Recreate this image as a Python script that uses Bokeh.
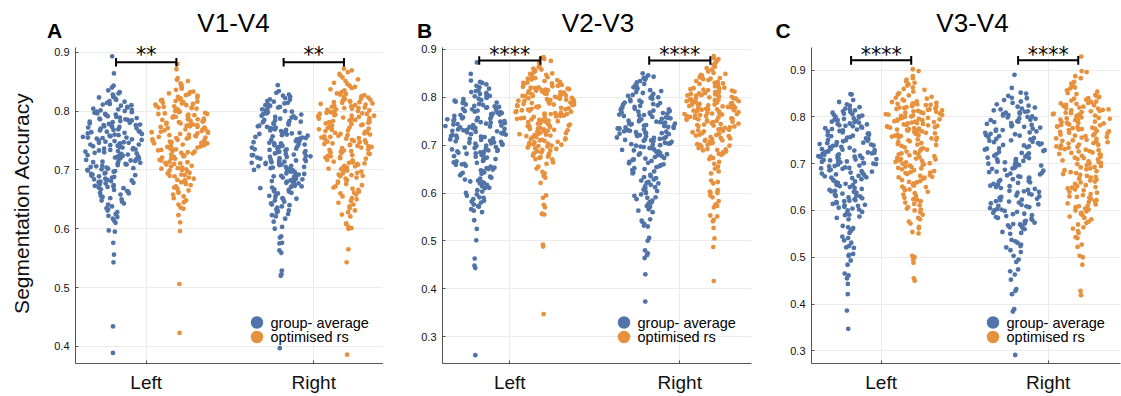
import numpy as np
from bokeh.plotting import figure
from bokeh.layouts import row, column
from bokeh.models import Range1d, FixedTicker, Label
from bokeh.embed import file_html
from bokeh.resources import INLINE

# Segmentation accuracy per participant, per hemisphere and method.

# ---------------- V1-V4 ----------------
v1v4_left_group = [
    .893, .864, .843, .840, .835, .832, .830,
    .828, .826, .824, .823, .821,
    .819, .817, .816, .814, .812, .811, .810,
    .809, .807, .806, .804, .803, .802, .801, .800,
    .799, .798, .796, .795, .794, .793, .791, .790, .797,
    .789, .788, .787, .786, .785, .784, .783, .782, .781, .780, .786,
    .779, .778, .777, .776, .775, .774, .773, .772, .771, .770, .776, .773,
    .769, .768, .767, .766, .765, .764, .763, .762, .761, .760, .765,
    .759, .758, .757, .756, .755, .754, .753, .752, .751, .750, .755,
    .749, .748, .747, .746, .745, .744, .743, .742, .741, .740, .746, .743,
    .739, .738, .737, .736, .735, .734, .733, .732, .731, .730, .735,
    .729, .728, .727, .726, .725, .724, .723, .722, .721, .720, .725,
    .719, .718, .717, .716, .715, .714, .713, .712, .711, .710, .715,
    .709, .708, .707, .706, .705, .704, .703, .702, .701, .700,
    .699, .698, .697, .695, .694, .693, .692, .691, .690,
    .689, .688, .687, .685, .684, .683, .682, .681, .680,
    .679, .678, .677, .675, .674, .673, .672, .671, .670,
    .669, .667, .666, .664, .663, .661, .660,
    .658, .656, .654, .652, .650,
    .648, .646, .643, .641,
    .638, .635, .633, .631,
    .628, .625, .622, .620,
    .617, .613, .610,
    .597, .595, .576, .556, .543, .434, .389]

v1v4_left_opt = [
    .880, .871, .856, .853, .851,
    .847, .845, .842, .840,
    .838, .836, .833, .832, .830,
    .829, .827, .826, .824, .823, .822, .821, .820,
    .819, .818, .817, .816, .815, .814, .813, .812, .811, .810,
    .809, .808, .807, .806, .805, .804, .803, .802, .801, .800, .806,
    .799, .798, .797, .796, .795, .794, .793, .792, .791, .790, .795,
    .789, .788, .787, .786, .785, .784, .783, .782, .781, .780, .786, .783,
    .779, .778, .777, .776, .775, .774, .773, .772, .771, .770, .776, .773,
    .769, .768, .767, .766, .765, .764, .763, .762, .761, .760, .765,
    .759, .758, .757, .756, .755, .754, .753, .752, .751, .750, .755,
    .749, .748, .747, .746, .745, .744, .743, .742, .741, .740, .745,
    .739, .738, .737, .736, .735, .734, .733, .732, .731, .730,
    .729, .728, .726, .725, .724, .723, .722, .721, .720,
    .719, .717, .716, .714, .713, .712, .711, .710,
    .709, .707, .706, .704, .703, .702, .701, .700,
    .699, .697, .695, .694, .692, .691, .690,
    .689, .687, .685, .683, .682, .680,
    .679, .676, .674, .672, .670,
    .668, .665, .663, .661,
    .658, .655, .652,
    .648, .645, .641,
    .636, .634, .623, .611, .596, .506, .423]

v1v4_right_group = [
    .844, .834, .831,
    .828, .826, .824, .822, .820,
    .819, .817, .816, .814, .813, .811, .810,
    .809, .807, .806, .804, .803, .801, .800,
    .799, .798, .796, .795, .794, .792, .791, .790,
    .789, .788, .787, .785, .784, .783, .782, .781, .780,
    .779, .778, .777, .775, .774, .773, .772, .771, .770,
    .769, .768, .767, .766, .765, .764, .763, .762, .761, .760,
    .759, .758, .757, .756, .755, .754, .753, .752, .751, .750,
    .749, .748, .747, .746, .745, .744, .743, .742, .741, .740, .745,
    .739, .738, .737, .736, .735, .734, .733, .732, .731, .730, .735,
    .729, .728, .727, .726, .725, .724, .723, .722, .721, .720, .725, .722,
    .719, .718, .717, .716, .715, .714, .713, .712, .711, .710, .715, .712,
    .709, .708, .707, .706, .705, .704, .703, .702, .701, .700, .705,
    .699, .698, .697, .696, .695, .694, .693, .692, .691, .690,
    .689, .688, .687, .685, .684, .683, .682, .681, .680,
    .679, .678, .677, .675, .674, .673, .672, .671, .670,
    .669, .667, .666, .664, .663, .661, .660,
    .658, .656, .654, .652, .651, .650,
    .648, .646, .643, .641, .640,
    .638, .636, .633, .631, .630,
    .628, .625, .623, .621,
    .617, .612, .603, .600,
    .587, .585, .576, .575, .563, .559, .529, .523, .520, .397]

v1v4_right_opt = [
    .872, .869, .866, .863, .861,
    .857, .854, .851,
    .848, .846, .843, .841,
    .839, .837, .835, .832, .830,
    .829, .828, .827, .825, .824, .823, .822, .821, .820,
    .819, .818, .817, .816, .815, .814, .813, .812, .811, .810, .815,
    .809, .808, .807, .806, .805, .804, .803, .802, .801, .800, .805,
    .799, .798, .797, .796, .795, .794, .793, .792, .791, .790, .795, .792,
    .789, .788, .787, .786, .785, .784, .783, .782, .781, .780, .785,
    .779, .778, .777, .776, .775, .774, .773, .772, .771, .770,
    .769, .768, .767, .766, .765, .764, .763, .762, .761, .760,
    .759, .758, .757, .756, .755, .754, .753, .752, .751, .750,
    .749, .748, .747, .746, .745, .744, .743, .742, .741, .740,
    .739, .738, .737, .735, .734, .733, .732, .731, .730,
    .729, .728, .727, .725, .724, .723, .722, .721, .720,
    .719, .717, .716, .714, .713, .712, .711, .710,
    .709, .707, .706, .704, .703, .702, .701, .700,
    .699, .697, .695, .694, .692, .691, .690,
    .689, .687, .685, .683, .682, .680,
    .678, .676, .674, .672, .670,
    .668, .666, .663, .661, .660,
    .658, .655, .652, .650,
    .647, .644, .641,
    .638, .635, .631,
    .628, .624, .621,
    .609, .608, .603, .601, .600,
    .565, .543, .386]

# ---------------- V2-V3 ----------------
v2v3_left_group = [
    .873, .849,
    .835, .832, .830,
    .827, .824, .821,
    .818, .815, .813, .811,
    .809, .807, .805, .803, .802, .800,
    .799, .797, .796, .794, .793, .791, .790,
    .789, .788, .786, .785, .784, .782, .781, .780,
    .779, .778, .776, .775, .774, .772, .771, .770,
    .769, .768, .767, .766, .765, .764, .763, .762, .761,
    .759, .758, .757, .756, .755, .754, .753, .752, .751, .750,
    .749, .748, .747, .746, .745, .744, .743, .742, .741, .740,
    .739, .738, .737, .736, .735, .734, .733, .732, .731, .730,
    .729, .728, .727, .726, .725, .724, .723, .722, .721, .720,
    .719, .718, .717, .716, .715, .714, .713, .712, .711,
    .709, .708, .707, .706, .705, .704, .703, .702, .701,
    .699, .698, .696, .695, .694, .692, .691, .690,
    .689, .688, .687, .686, .685, .684, .683, .682, .681,
    .679, .677, .676, .674, .673, .671, .670,
    .669, .667, .666, .664, .663, .661, .660,
    .659, .657, .655, .653, .652, .650,
    .649, .647, .645, .643, .642, .640,
    .639, .637, .634, .632, .630,
    .628, .626, .624, .622, .621, .620,
    .617, .614, .611, .610,
    .606, .603, .600,
    .597, .594, .591, .590,
    .587, .584, .582, .580,
    .576, .573, .571,
    .566, .563, .560,
    .543, .525, .501, .463, .448, .443, .261]

v2v3_left_opt = [
    .884, .882, .880, .876, .872,
    .866, .863, .860,
    .858, .855, .852, .850,
    .849, .847, .845, .842, .840,
    .839, .837, .836, .834, .832, .831, .830,
    .829, .828, .826, .825, .824, .823, .822, .821, .820,
    .819, .818, .817, .816, .815, .814, .813, .812, .811, .810, .815,
    .809, .808, .807, .806, .805, .804, .803, .802, .801, .800, .806, .803,
    .799, .798, .797, .796, .795, .794, .793, .792, .791, .790, .795,
    .789, .788, .787, .786, .785, .784, .783, .782, .781, .780, .785,
    .779, .778, .777, .776, .775, .774, .773, .772, .771, .770,
    .769, .768, .767, .766, .765, .764, .763, .762, .761, .760, .765,
    .759, .758, .757, .756, .755, .754, .753, .752, .751, .750,
    .749, .748, .746, .745, .744, .743, .742, .741, .740,
    .739, .738, .736, .735, .734, .733, .732, .731, .730,
    .729, .728, .726, .725, .724, .723, .722, .721, .720,
    .719, .717, .716, .714, .713, .712, .711, .710,
    .709, .707, .706, .704, .703, .702, .701, .700,
    .699, .697, .695, .693, .692, .690, .698,
    .689, .687, .685, .683, .682, .680,
    .678, .675, .673, .671, .670, .676,
    .664, .661, .655, .651, .644, .641, .636, .632, .621,
    .595, .590, .575, .570, .557, .556, .555,
    .492, .488, .347]

v2v3_right_group = [
    .850, .846,
    .843, .841, .840,
    .837, .834, .831,
    .828, .825, .823, .821,
    .819, .817, .815, .813, .811,
    .809, .807, .805, .803, .802, .800,
    .799, .797, .795, .793, .792, .790,
    .789, .788, .786, .785, .783, .782, .780,
    .779, .778, .776, .775, .774, .772, .771, .770,
    .769, .768, .767, .766, .765, .764, .763, .762, .761,
    .759, .758, .757, .756, .755, .754, .753, .752, .751, .750,
    .749, .748, .747, .746, .745, .744, .743, .742, .741, .740, .745,
    .739, .738, .737, .736, .735, .734, .733, .732, .731, .730, .735,
    .729, .728, .727, .726, .725, .724, .723, .722, .721, .720, .725,
    .719, .718, .717, .716, .715, .714, .713, .712, .711, .710,
    .709, .708, .707, .705, .704, .703, .702, .701, .700,
    .699, .697, .696, .694, .693, .691, .690,
    .689, .687, .686, .684, .683, .681, .680,
    .679, .677, .675, .673, .672, .670,
    .669, .667, .665, .663, .662, .660,
    .658, .656, .654, .652, .650,
    .648, .645, .643, .641,
    .638, .635, .633, .631,
    .628, .626, .623, .621, .620,
    .617, .614, .612, .610,
    .607, .604, .602, .600,
    .597, .594, .591, .590,
    .587, .584, .581, .580,
    .576, .573, .571,
    .566, .563, .560,
    .545, .542, .540,
    .535, .532, .530,
    .506, .500, .480, .474, .470, .464, .430, .373]

v2v3_right_opt = [
    .886, .882, .880, .876, .872,
    .868, .864, .861,
    .858, .854, .851,
    .849, .847, .845, .842, .840,
    .839, .838, .836, .834, .832, .830,
    .829, .828, .826, .825, .823, .822, .820,
    .819, .818, .817, .816, .815, .814, .813, .812, .811, .810,
    .809, .808, .807, .806, .805, .804, .803, .802, .801, .800, .805,
    .799, .798, .797, .796, .795, .794, .793, .792, .791, .790, .795, .792,
    .789, .788, .787, .786, .785, .784, .783, .782, .781, .780, .785, .782,
    .779, .778, .777, .776, .775, .774, .773, .772, .771, .770, .775,
    .769, .768, .767, .766, .765, .764, .763, .762, .761, .760, .765,
    .759, .758, .757, .756, .755, .754, .753, .752, .751, .750, .755,
    .749, .748, .746, .745, .744, .743, .742, .741, .740,
    .739, .737, .736, .734, .733, .732, .731, .730,
    .729, .727, .725, .724, .722, .721, .720,
    .719, .717, .715, .714, .712, .711, .710,
    .709, .707, .705, .704, .702, .701, .700,
    .699, .697, .694, .692, .691, .690,
    .689, .687, .685, .683, .682, .680,
    .676, .673, .671, .665, .661, .655, .651, .645, .641,
    .626, .623, .620, .606, .603, .601, .600, .595, .591, .583,
    .576, .573, .570, .553, .551, .544, .541,
    .527, .505, .487, .416]

# ---------------- V3-V4 ----------------
v3v4_left_group = [
    .849, .848, .836, .832,
    .827, .824, .821,
    .818, .816, .814, .812, .810,
    .809, .807, .806, .804, .803, .801, .800,
    .799, .797, .796, .794, .793, .791, .790,
    .789, .788, .786, .785, .784, .782, .781, .780,
    .779, .777, .776, .774, .773, .771, .770,
    .769, .767, .765, .764, .762, .761, .760,
    .759, .757, .756, .754, .753, .751, .750,
    .749, .748, .746, .745, .744, .742, .741, .740,
    .739, .738, .736, .735, .734, .732, .731, .730,
    .729, .728, .727, .726, .725, .724, .723, .722, .721, .720,
    .719, .718, .717, .716, .715, .714, .713, .712, .711, .710,
    .709, .708, .707, .706, .705, .704, .703, .702, .701, .700,
    .699, .698, .696, .695, .694, .692, .691, .690,
    .689, .687, .686, .684, .683, .681, .680,
    .679, .677, .676, .674, .673, .671, .670,
    .669, .667, .665, .664, .662, .660,
    .659, .657, .655, .654, .652, .650,
    .648, .646, .644, .642, .641, .640,
    .638, .636, .634, .632, .631, .630,
    .628, .626, .624, .622, .621, .620,
    .618, .616, .614, .612, .611, .610,
    .608, .606, .604, .602, .600,
    .597, .594, .591, .590,
    .587, .584, .581,
    .567, .564, .562, .560,
    .556, .552, .544, .541, .536, .531,
    .524, .521, .520, .507, .505, .503,
    .493, .484, .465, .461, .455, .443, .421, .386, .347]

v3v4_left_opt = [
    .902, .898, .887, .883, .880,
    .876, .873, .870,
    .867, .863, .860,
    .858, .854, .851,
    .848, .846, .843, .841,
    .839, .837, .835, .833, .832, .830,
    .829, .828, .827, .826, .825, .824, .823, .822, .821, .820,
    .819, .818, .817, .816, .815, .814, .813, .812, .811, .810,
    .809, .808, .807, .806, .805, .804, .803, .802, .801, .800,
    .799, .798, .797, .796, .795, .794, .793, .792, .791, .790,
    .789, .788, .787, .786, .785, .784, .783, .782, .781, .780,
    .779, .778, .777, .776, .775, .774, .773, .772, .771, .770,
    .769, .768, .766, .765, .764, .762, .761, .760,
    .759, .758, .756, .755, .754, .752, .751, .750,
    .748, .746, .744, .742, .741, .740,
    .738, .735, .733, .731, .730,
    .728, .726, .724, .722, .721, .720,
    .718, .716, .714, .712, .711, .710,
    .709, .707, .706, .704, .703, .701, .700,
    .699, .697, .696, .694, .693, .691, .690,
    .688, .686, .684, .682, .681, .680,
    .678, .676, .674, .672, .671, .670,
    .668, .665, .663, .661, .660,
    .658, .655, .653, .651, .650,
    .648, .645, .643, .640,
    .637, .634, .631,
    .627, .624, .622, .620,
    .617, .614, .611,
    .607, .604, .602, .600,
    .596, .591, .584, .581, .576, .572, .565, .562, .554, .551,
    .503, .500, .495, .488, .455, .450]

v3v4_right_group = [
    .890, .862, .852, .850,
    .845, .841, .840,
    .836, .833, .830,
    .827, .824, .822, .820,
    .818, .816, .814, .812, .811, .810,
    .809, .807, .806, .804, .803, .801, .800,
    .799, .797, .796, .794, .793, .791, .790,
    .789, .787, .785, .783, .782, .780,
    .779, .777, .775, .773, .772, .770,
    .769, .767, .766, .764, .763, .761, .760,
    .759, .757, .755, .753, .752, .750,
    .749, .747, .746, .744, .743, .741, .740,
    .739, .737, .735, .733, .732, .730,
    .729, .727, .725, .723, .722, .720,
    .719, .717, .715, .713, .712, .710,
    .709, .707, .706, .704, .703, .701, .700,
    .699, .697, .696, .694, .693, .691, .690,
    .689, .687, .685, .683, .682, .680,
    .679, .677, .675, .673, .672, .670,
    .669, .667, .665, .663, .662, .660,
    .659, .657, .655, .653, .652, .650,
    .648, .646, .644, .642, .641, .640,
    .638, .636, .634, .632, .630,
    .629, .627, .625, .623, .622, .620,
    .619, .617, .615, .613, .612, .610,
    .609, .607, .605, .603, .602, .600,
    .599, .597, .595, .593, .592, .590,
    .588, .586, .584, .582, .580,
    .578, .576, .574, .572, .571, .570,
    .568, .566, .564, .562, .560,
    .554, .552, .550, .537, .534, .531,
    .527, .524, .521, .515, .511, .503,
    .495, .490, .474, .470, .463, .452,
    .432, .428, .421, .389, .384, .291]

v3v4_right_opt = [
    .929, .898, .896, .887, .883, .875, .871,
    .866, .863, .861,
    .857, .854, .851,
    .849, .847, .845, .843, .842, .840,
    .839, .837, .835, .833, .832, .830,
    .829, .828, .826, .825, .824, .823, .822, .820,
    .819, .818, .816, .815, .814, .813, .812, .810,
    .809, .808, .807, .806, .805, .804, .803, .802, .800,
    .799, .798, .797, .796, .795, .794, .793, .792, .790,
    .789, .788, .787, .786, .785, .784, .783, .782, .780,
    .779, .778, .777, .776, .775, .774, .773, .772, .770,
    .769, .768, .766, .765, .764, .762, .761, .760,
    .759, .757, .756, .754, .753, .751, .750,
    .749, .747, .746, .744, .743, .741, .740,
    .739, .737, .736, .734, .733, .731, .730,
    .729, .727, .726, .724, .723, .721, .720,
    .719, .717, .715, .713, .712, .710,
    .709, .707, .705, .703, .702, .700,
    .699, .697, .695, .693, .692, .690,
    .688, .686, .684, .682, .680,
    .678, .676, .674, .672, .670,
    .668, .666, .664, .662, .660,
    .657, .654, .652, .650,
    .649, .647, .645, .643, .640,
    .638, .635, .633, .630,
    .629, .627, .625, .622, .620,
    .618, .615, .613, .610,
    .609, .607, .604, .602, .600,
    .598, .595, .593, .590,
    .587, .584, .581, .576, .573, .570,
    .564, .561, .556, .552, .543, .541,
    .527, .522, .503, .500, .484, .428, .419]

CATEGORIES = ["Left", "Right"]
SERIES = ["group- average", "optimised rs"]
COLORS = ["#5174a8", "#e8913d"]
STARS = ["**", "****", "****"]
TITLES = ["V1-V4", "V2-V3", "V3-V4"]
LETTERS = ["A", "B", "C"]

FONT = "Liberation Sans"
HEADER_H = 42                      # strip above the panels holding titles and letters
PANEL_H = 396 - HEADER_H
BORDER_BOTTOM = 33
FRAME_H = PANEL_H - BORDER_BOTTOM

# per-panel layout: figure width, side borders, axis limits, axis-line extent,
# ticks, bracket height and positions (pixels from the figure's left edge)
layout = [
    dict(data=[[v1v4_left_group, v1v4_left_opt], [v1v4_right_group, v1v4_right_opt]],
         width=383, bl=75, br=0, xr=(0.578, 2.416), yr=(0.371, 0.9165), ytop=0.908,
         yticks=[0.4, 0.5, 0.6, 0.7, 0.8, 0.9], bracket=0.883,
         title_x=233, letter_x=46.5, ylabel=True),
    dict(data=[[v2v3_left_group, v2v3_left_opt], [v2v3_right_group, v2v3_right_opt]],
         width=373, bl=59, br=5, xr=(0.604, 2.422), yr=(0.2436, 0.9146), ytop=0.904,
         yticks=[0.3, 0.4, 0.5, 0.6, 0.7, 0.8, 0.9], bracket=0.877,
         title_x=214.5, letter_x=33.5, ylabel=False),
    dict(data=[[v3v4_left_group, v3v4_left_opt], [v3v4_right_group, v3v4_right_opt]],
         width=365, bl=55, br=1, xr=(0.583, 2.433), yr=(0.2728, 0.9592), ytop=0.9485,
         yticks=[0.3, 0.4, 0.5, 0.6, 0.7, 0.8, 0.9], bracket=0.921,
         title_x=216, letter_x=19, ylabel=False),
]

OFFSET = 0.2        # horizontal shift of each series from its category
HALF_WIDTH = 0.18   # widest half-spread of a dot cloud
BRACKET_HALF = 0.18


def hash_unit(i, seed):
    s = np.sin(i * 12.9898 + seed * 78.233) * 43758.5453
    return 2.0 * (s - np.floor(s)) - 1.0


def spread_x(values, center, seed):
    """Jitter points sideways, in proportion to the local kernel density."""
    y = np.asarray(values, dtype=float)
    n = len(y)
    q75, q25 = np.percentile(y, [75, 25])
    sd = min(y.std(ddof=1), (q75 - q25) / 1.34)
    bw = 0.9 * sd * n ** -0.2
    dens = np.exp(-0.5 * ((y[:, None] - y[None, :]) / bw) ** 2).sum(axis=1)
    w = HALF_WIDTH * dens / dens.max()
    return center + w * hash_unit(np.arange(n), seed)


def make_panel(k, cfg):
    frame_w = cfg["width"] - cfg["bl"] - cfg["br"]
    x0, x1 = cfg["xr"]
    y0, y1 = cfg["yr"]
    sx = (x1 - x0) / frame_w
    sy = (y1 - y0) / FRAME_H

    def fx(px):          # pixels from figure's left edge -> data x
        return x0 + (px - cfg["bl"]) * sx

    def fy(py):          # pixels from the page top -> data y
        return y1 - (py - HEADER_H) * sy

    # ---- header strip: panel title and letter ----
    h = figure(width=cfg["width"], height=HEADER_H, output_backend="svg",
               toolbar_location=None, x_axis_type=None, y_axis_type=None,
               x_range=Range1d(x0 - cfg["bl"] * sx, x1 + cfg["br"] * sx),
               y_range=Range1d(HEADER_H, 0),
               min_border_left=0, min_border_right=0, min_border_top=0,
               min_border_bottom=0)
    h.outline_line_color = None
    h.grid.visible = False
    h.add_layout(Label(x=fx(cfg["title_x"]), y=22.4, text=TITLES[k],
                       text_align="center", text_baseline="middle",
                       text_font=FONT, text_font_size="26px", text_color="black"))
    h.add_layout(Label(x=fx(cfg["letter_x"]), y=30.0, text=LETTERS[k],
                       text_align="left", text_baseline="middle",
                       text_font=FONT, text_font_style="bold",
                       text_font_size="21px", text_color="black"))

    # ---- main panel ----
    p = figure(width=cfg["width"], height=PANEL_H, output_backend="svg",
               toolbar_location=None, x_range=Range1d(x0, x1), y_range=Range1d(y0, y1),
               min_border_left=cfg["bl"], min_border_right=cfg["br"],
               min_border_top=0, min_border_bottom=BORDER_BOTTOM)
    p.outline_line_color = None

    for grid in [p.xgrid, p.ygrid]:
        grid.grid_line_color = "#ebebeb"
        grid.grid_line_width = 1

    p.xaxis.ticker = FixedTicker(ticks=[1, 2])
    p.xaxis.major_label_overrides = {1: CATEGORIES[0], 2: CATEGORIES[1]}
    p.yaxis.ticker = FixedTicker(ticks=cfg["yticks"])
    p.yaxis.major_label_overrides = {t: f"{t:.1f}" for t in cfg["yticks"]}
    p.yaxis.bounds = (y0, cfg["ytop"])
    for ax in [p.xaxis[0], p.yaxis[0]]:
        ax.axis_line_color = "#555555"
        ax.major_tick_line_color = "#555555"
        ax.major_tick_in = 3
        ax.major_tick_out = 0
        ax.minor_tick_line_color = None
        ax.major_label_text_font = FONT
        ax.major_label_text_color = "#111111"
    p.xaxis.major_label_text_font_size = "19px"
    p.xaxis.major_label_standoff = 8
    p.yaxis.major_label_text_font_size = "11px"
    p.yaxis.major_label_standoff = 6
    if cfg["ylabel"]:
        p.yaxis.axis_label = "Segmentation Accuracy"
        p.yaxis.axis_label_text_font = FONT
        p.yaxis.axis_label_text_font_size = "21px"
        p.yaxis.axis_label_text_font_style = "normal"
        p.yaxis.axis_label_text_color = "#111111"
        p.yaxis.axis_label_standoff = 18

    # dot clouds
    for si in range(2):
        for ci in range(2):
            vals = cfg["data"][ci][si]
            center = ci + 1 + (OFFSET if si else -OFFSET)
            xs = spread_x(vals, center, seed=k * 10 + ci * 2 + si + 1)
            p.scatter(xs, vals, size=4.8, color=COLORS[si], line_color=None)

    # significance brackets and stars
    cap = 4.3 * sy
    yb = cfg["bracket"]
    for ci in range(2):
        c = ci + 1
        xa, xb = c - BRACKET_HALF, c + BRACKET_HALF
        p.segment(x0=[xa, xa, xb], y0=[yb, yb - cap, yb - cap],
                  x1=[xb, xa, xb], y1=[yb, yb + cap, yb + cap],
                  line_color="black", line_width=2)
        p.add_layout(Label(x=c, y=fy(54.5), text=STARS[k], text_align="center",
                           text_baseline="middle", text_font="DejaVu Sans",
                           text_font_size="20.5px", text_color="black"))

    # legend
    for si in range(2):
        ly = fy(322 + 14.5 * si)
        p.scatter([fx(cfg["bl"] + 181.5)], [ly], size=12.5, color=COLORS[si],
                  line_color=None)
        p.add_layout(Label(x=fx(cfg["bl"] + 195), y=ly, text=SERIES[si],
                           text_align="left", text_baseline="middle", text_font=FONT,
                           text_font_size="14.5px", text_color="black"))
    return h, p


panels = [make_panel(k, cfg) for k, cfg in enumerate(layout)]
page = column(row(*[hp[0] for hp in panels], spacing=0),
              row(*[hp[1] for hp in panels], spacing=0), spacing=0)
open("out.html", "w").write(file_html(page, INLINE))
